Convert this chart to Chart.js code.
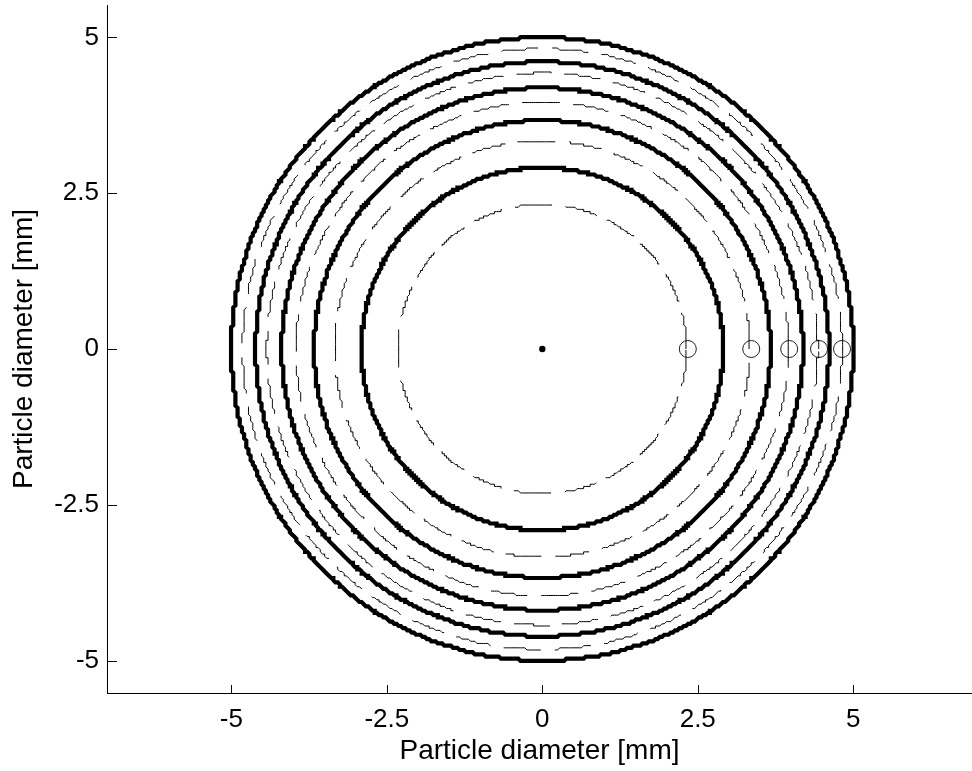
<!DOCTYPE html>
<html>
<head>
<meta charset="utf-8">
<script src="https://cdn.jsdelivr.net/npm/chart.js@4.4.1/dist/chart.umd.min.js"></script>
<style>
	html, body { margin: 0; padding: 0; background: #fff; }
	#wrap { width: 972px; height: 771px; }
</style>
</head>
<body>
<div id="wrap"><canvas id="myChart" width="972" height="771"></canvas></div>
<script>

// ========== data (mm)

const solidRadii  = [2.91, 3.67, 4.19, 4.61, 5.0];
const dashedRadii = [2.32, 3.34, 3.96, 4.43, 4.82];
const markerX = [2.34, 3.36, 3.97, 4.45, 4.82];
const markerY = [0, 0, 0, 0, 0];
const centreX = [0];
const centreY = [0];
const xTicks = [-5, -2.5, 0, 2.5, 5];
const yTicks = [-5, -2.5, 0, 2.5, 5];
const axisTitle = 'Particle diameter [mm]';

// contours come from a pixel grid, so the rings are stepped
const GRID = 0.035;
const FONT = "'Liberation Sans', Arial, sans-serif";


// ========== helpers

function ring(r){
	let pts = [];
	let n = 900;
	for (let i = 0; i <= n; i++) {
		let t = i / n * Math.PI * 2;
		let x = Math.round(r * Math.cos(t) / GRID) * GRID;
		let y = Math.round(r * Math.sin(t) / GRID) * GRID;
		let last = pts[pts.length - 1];
		if (!last || last.x !== x || last.y !== y) pts.push({x: x, y: y});
	}
	return pts;
}

function zip(xs, ys){
	return xs.map((x, i) => ({x: x, y: ys[i]}));
}

let datasets = [];

dashedRadii.forEach(r => {
	datasets.push({
		data: ring(r),
		showLine: true,
		borderColor: '#000',
		borderWidth: 1,
		borderDash: [38, 14],
		pointRadius: 0,
		tension: 0
	});
});

solidRadii.forEach(r => {
	datasets.push({
		data: ring(r),
		showLine: true,
		borderColor: '#000',
		borderWidth: 4.2,
		pointRadius: 0,
		tension: 0
	});
});

datasets.push({
	data: zip(markerX, markerY),
	showLine: false,
	pointStyle: 'circle',
	pointRadius: 8.5,
	pointBorderWidth: 1,
	pointBorderColor: '#222',
	pointBackgroundColor: 'rgba(0,0,0,0)'
});

datasets.push({
	data: zip(centreX, centreY),
	showLine: false,
	pointRadius: 3.2,
	pointBorderWidth: 0,
	pointBackgroundColor: '#000'
});


// ========== inward tick marks

const inwardTicks = {
	id: 'inwardTicks',
	afterDraw(chart){
		let ctx = chart.ctx;
		let xs = chart.scales.x, ys = chart.scales.y;
		let area = chart.chartArea;
		ctx.save();
		ctx.strokeStyle = '#000';
		ctx.lineWidth = 1;
		ctx.beginPath();
		xTicks.forEach(v => {
			let px = Math.round(xs.getPixelForValue(v)) + 0.5;
			ctx.moveTo(px, area.bottom);
			ctx.lineTo(px, area.bottom - 8);
		});
		yTicks.forEach(v => {
			let py = Math.round(ys.getPixelForValue(v)) + 0.5;
			ctx.moveTo(area.left, py);
			ctx.lineTo(area.left + 10, py);
		});
		ctx.stroke();
		ctx.restore();
	}
};

function fixTicks(list){
	return function(scale){
		scale.ticks = list.map(v => ({value: v}));
	};
}

// axis box sizes are fixed, no extra room for edge labels
function fitX(s){
	s.height = 78;
	s.paddingLeft = 0;
	s.paddingRight = 0;
}

function fitY(s){
	s.width = 107;
	s.paddingTop = 0;
	s.paddingBottom = 0;
}


// ========== chart

let ctx1 = document.getElementById('myChart').getContext('2d');
let myChart = new Chart(ctx1, {
	type: 'scatter',
	data: { datasets: datasets },
	plugins: [inwardTicks],
	options: {
		responsive: false,
		animation: false,
		layout: {
			autoPadding: false,
			padding: { top: 5, right: 0, left: 0, bottom: 0 }
		},
		plugins: {
			legend: { display: false },
			tooltip: { enabled: false }
		},
		scales: {
			x: {
				type: 'linear',
				min: -7,
				max: 6.91,
				afterBuildTicks: fixTicks(xTicks),
				afterFit: fitX,
				grid: { display: false, drawTicks: false },
				border: { display: true, color: '#000', width: 1 },
				ticks: {
					color: '#000',
					padding: 11,
					maxRotation: 0,
					font: { family: FONT, size: 26 },
					callback: v => String(v)
				},
				title: {
					display: true,
					text: axisTitle,
					color: '#000',
					padding: { top: 0, bottom: 3 },
					font: { family: FONT, size: 28 }
				}
			},
			y: {
				type: 'linear',
				min: -5.52,
				max: 5.52,
				afterBuildTicks: fixTicks(yTicks),
				afterFit: fitY,
				grid: { display: false, drawTicks: false },
				border: { display: true, color: '#000', width: 1 },
				ticks: {
					color: '#000',
					padding: 8,
					font: { family: FONT, size: 26 },
					callback: v => String(v)
				},
				title: {
					display: true,
					text: axisTitle,
					color: '#000',
					padding: { top: 7, bottom: 0 },
					font: { family: FONT, size: 28 }
				}
			}
		}
	}
});

</script>
</body>
</html>
